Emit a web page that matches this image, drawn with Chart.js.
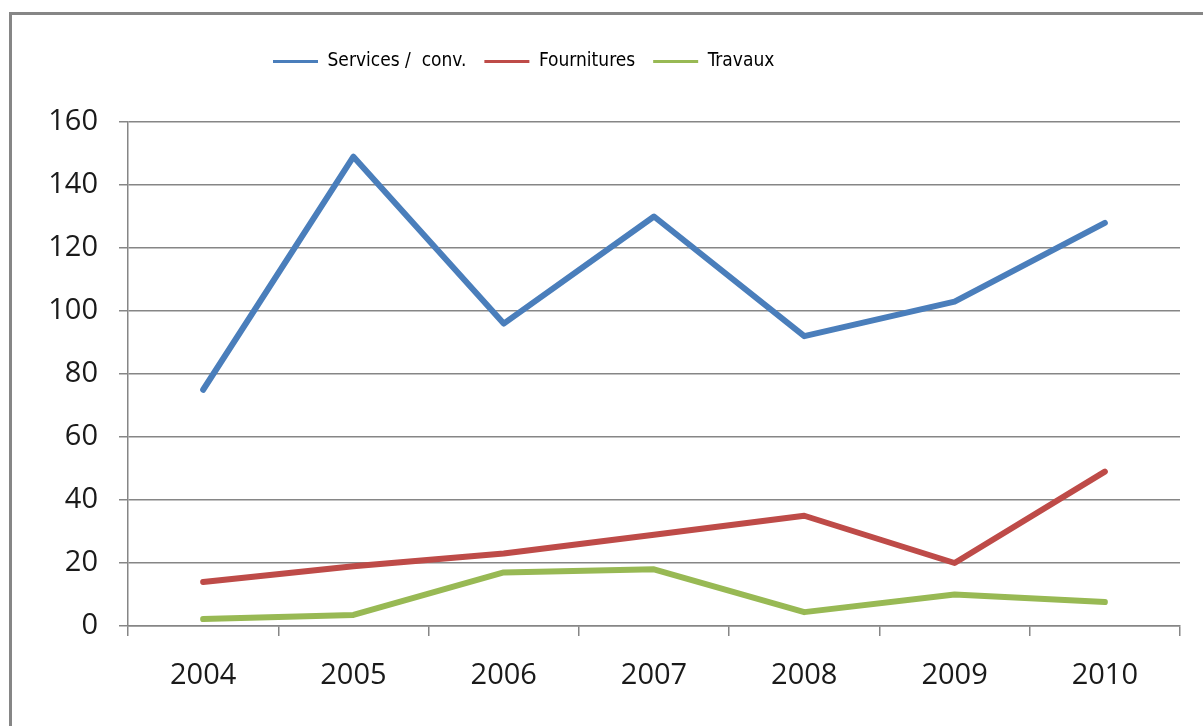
<!DOCTYPE html>
<html>
<head>
<meta charset="utf-8">
<script src="https://cdn.jsdelivr.net/npm/chart.js@4"></script>
<style>
    html, body { margin: 0; padding: 0; background: #fff; overflow: hidden; }
    .frame {
        position: absolute;
        left: 9px;
        top: 12px;
        width: 1260px;
        height: 780px;
        border: 3px solid #868686;
        background: #fff;
    }
    .frame canvas { display: block; }
</style>
</head>
<body>
<div class="frame">
    <canvas id="trendChart" width="1191" height="711"></canvas>
</div>
<script>
const years = ['2004', '2005', '2006', '2007', '2008', '2009', '2010'];
const services = [75, 149, 96, 130, 92, 103, 128];
const fournitures = [14, 19, 23, 29, 35, 20, 49];
const travaux = [2.2, 3.5, 17, 18, 4.4, 10, 7.6];
const seriesNames = ['Services /  conv.', 'Fournitures', 'Travaux'];
const seriesColors = ['#4a7ebb', '#be4b48', '#98b954'];

const tickFont = { family: "'Open Sans', 'Liberation Sans', sans-serif", size: 29 };
const legendFont = { family: "'Liberation Sans Narrow', 'DejaVu Sans Condensed', sans-serif", size: 19 };

// move the legend to where the original sits (left of centre)
const legendPlace = {
    id: 'legendPlace',
    afterLayout(chart) {
        const lg = chart.legend;
        lg.left = 261 - lg.options.labels.padding;
        lg.top = 49 - lg.options.labels.padding - 12;
    }
};

const makeLine = (label, data, color) => ({
    label: label,
    data: data,
    borderColor: color,
    backgroundColor: color,
    borderWidth: 6,
    borderCapStyle: 'round',
    borderJoinStyle: 'round',
    pointRadius: 0,
    tension: 0,
    fill: false
});

const ctx = document.getElementById('trendChart').getContext('2d');
new Chart(ctx, {
    type: 'line',
    data: {
        labels: years,
        datasets: [
            makeLine(seriesNames[0], services, seriesColors[0]),
            makeLine(seriesNames[1], fournitures, seriesColors[1]),
            makeLine(seriesNames[2], travaux, seriesColors[2])
        ]
    },
    options: {
        responsive: false,
        animation: false,
        layout: { padding: { left: 38, right: 23, top: 60, bottom: 32 } },
        scales: {
            x: {
                offset: true,
                grid: {
                    offset: true,
                    drawOnChartArea: false,
                    color: '#868686',
                    lineWidth: 1.5,
                    tickLength: 10
                },
                border: { color: '#868686', width: 1.5 },
                ticks: { font: tickFont, color: '#1a1a1a', padding: 22 },
                afterFit: (scale) => { scale.height = 68; }
            },
            y: {
                min: 0,
                max: 160,
                ticks: { stepSize: 20, font: tickFont, color: '#1a1a1a', padding: 21 },
                grid: { color: '#868686', lineWidth: 1.5, tickLength: 9 },
                border: { color: '#868686', width: 1.5 },
                afterFit: (scale) => { scale.width = 78; }
            }
        },
        plugins: {
            legend: {
                position: 'top',
                align: 'start',
                labels: {
                    boxWidth: 45,
                    boxHeight: 3,
                    padding: 18,
                    color: '#111',
                    font: legendFont,
                    generateLabels: (chart) => chart.data.datasets.map((ds, i) => ({
                        text: ds.label,
                        fillStyle: ds.borderColor,
                        strokeStyle: ds.borderColor,
                        lineWidth: 0,
                        hidden: false,
                        datasetIndex: i
                    }))
                }
            },
            tooltip: { enabled: false }
        }
    },
    plugins: [legendPlace]
});
</script>
</body>
</html>
